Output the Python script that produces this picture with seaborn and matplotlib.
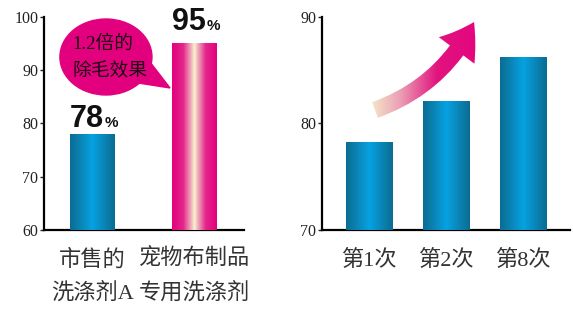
import numpy as np
import matplotlib
matplotlib.use('Agg')
import matplotlib.pyplot as plt
import seaborn as sns
from matplotlib.colors import LinearSegmentedColormap
from matplotlib.patches import Ellipse, Polygon, FancyArrowPatch

# data
left_cats = ['市售的\n洗涤剂A', '宠物布制品\n专用洗涤剂']
left_vals = [78, 95]
left_texts = ['78', '95']
right_cats = ['第1次', '第2次', '第8次']
right_vals = [78.2, 82.1, 86.2]

sns.set_style('white')
plt.rcParams['font.family'] = ['Liberation Serif', 'Noto Sans CJK SC', 'DejaVu Sans']
cjk = ['Liberation Serif', 'Noto Sans CJK SC']

teal = LinearSegmentedColormap.from_list('teal', ['#0a6c92', '#0b86b8', '#06a2e2', '#0b86b8', '#0a6c92'])
pink = LinearSegmentedColormap.from_list(
    'pink', [(0, '#e4007f'), (0.25, '#e3268a'), (0.42, '#eeaabb'), (0.5, '#f8f4cc'),
             (0.58, '#eeaabb'), (0.75, '#e3268a'), (1, '#e4007f')])
arrow_cm = LinearSegmentedColormap.from_list(
    'arr', [(0, '#f6eccb'), (0.25, '#eba0b5'), (0.55, '#e2137f'), (1, '#e4007f')])
grad = np.linspace(0, 1, 256).reshape(1, -1)

fig = plt.figure(figsize=(5.73, 3.11), dpi=100)
ax1 = fig.add_axes([44 / 573, 81 / 311, 200 / 573, 213 / 311])
ax2 = fig.add_axes([322 / 573, 81 / 311, 248 / 573, 213 / 311])


def paint_bars(ax, cmaps, ybottom):
    for p, cm in zip(list(ax.patches), cmaps):
        x0, w = p.get_x(), p.get_width()
        top = p.get_y() + p.get_height()
        ax.imshow(grad, cmap=cm, aspect='auto', interpolation='bilinear',
                  extent=(x0, x0 + w, ybottom, top), zorder=3)
        p.set_visible(False)


def style_axis(ax, ticks, lim, xlim):
    ax.set_ylim(*lim)
    ax.set_xlim(*xlim)
    ax.set_yticks(ticks)
    ax.set_ylabel('')
    ax.set_xlabel('')
    sns.despine(ax=ax)
    for s in ['left', 'bottom']:
        ax.spines[s].set_linewidth(1.6)
        ax.spines[s].set_color('black')
    ax.tick_params(axis='y', length=3, width=1, pad=1, labelsize=11.5, labelcolor='#222222', left=True)
    ax.tick_params(axis='x', length=0, pad=14)
    for t in ax.get_yticklabels():
        t.set_family('Liberation Serif')


# left chart
sns.barplot(x=left_cats, y=left_vals, ax=ax1, width=0.44)
paint_bars(ax1, [teal, pink], 60)
style_axis(ax1, [60, 70, 80, 90, 100], (60, 100), (-0.475, 1.485))
ax1.set_xticks(range(len(left_cats)))
ax1.set_xticklabels(left_cats, fontsize=16, family=cjk, color='#333333', linespacing=1.7)

offsets = [5, 10]
for i, (v, s) in enumerate(zip(left_vals, left_texts)):
    ax1.annotate(s, xy=(i, v), xytext=(8, offsets[i]), textcoords='offset points',
                 ha='right', va='baseline', fontsize=22, fontweight='bold',
                 family='Liberation Sans', color='#111111', zorder=6)
    ax1.annotate('%', xy=(i, v), xytext=(9, offsets[i]), textcoords='offset points',
                 ha='left', va='baseline', fontsize=11, fontweight='bold',
                 family='Liberation Sans', color='#111111', zorder=6)

# speech bubble
bub = '#e2007e'
ax1.add_patch(Ellipse((0.132, 92.49), 0.902, 14.27, color=bub, zorder=4, clip_on=False))
ax1.add_patch(Polygon([(0.387, 87.79), (0.564, 91.55), (0.76, 86.67)], closed=True,
                      color=bub, zorder=4, clip_on=False))
ax1.text(-0.2, 92.4, '1.2倍的\n除毛效果', ha='left', va='center', multialignment='left',
         fontsize=13.5, linespacing=1.75, color='#1e0612', family=cjk, zorder=5)

# right chart
sns.barplot(x=right_cats, y=right_vals, ax=ax2, width=0.6)
paint_bars(ax2, [teal] * 3, 70)
style_axis(ax2, [70, 80, 90], (70, 90), (-0.61, 2.61))
ax2.set_xticks(range(len(right_cats)))
ax2.set_xticklabels(right_cats, fontsize=16, family=cjk, color='#333333')

# rising arrow with gradient
arr = FancyArrowPatch((0.078, 81.27), (1.364, 89.53),
                      arrowstyle='simple,head_length=24,head_width=32,tail_width=12',
                      connectionstyle='arc3,rad=0.2', mutation_scale=1,
                      shrinkA=0, shrinkB=0, facecolor='none', edgecolor='none')
ax2.add_patch(arr)
img = ax2.imshow(grad, cmap=arrow_cm, aspect='auto', interpolation='bilinear',
                 extent=(0.0, 1.6, 79.0, 91.5), zorder=4)
img.set_clip_path(arr)
ax2.set_xlim(-0.61, 2.61)
ax2.set_ylim(70, 90)

fig.savefig('out.png', dpi=100, facecolor='white')
